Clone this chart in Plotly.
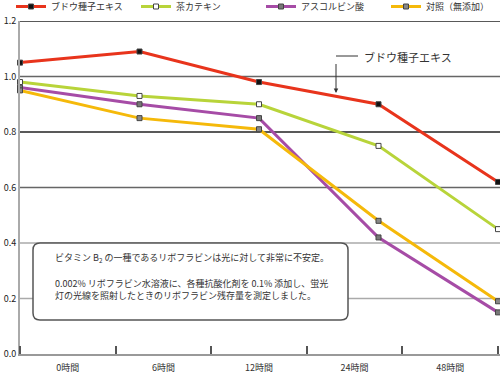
import plotly.graph_objects as go

time_labels = ["0時間", "6時間", "12時間", "24時間", "48時間"]
series_names = ["ブドウ種子エキス", "茶カテキン", "アスコルビン酸", "対照（無添加）"]
grape = [1.05, 1.09, 0.98, 0.90, 0.62]
catechin = [0.98, 0.93, 0.90, 0.75, 0.45]
ascorbic = [0.96, 0.90, 0.85, 0.42, 0.15]
control = [0.95, 0.85, 0.81, 0.48, 0.19]
y_ticks = [0.0, 0.2, 0.4, 0.6, 0.8, 1.0, 1.2]
grid_colors = ["#999999", "#aaaaaa", "#aaaaaa", "#666666", "#222222", "#666666", "#222222"]

W, H = 500, 375
ML, MR, MT, MB = 20, 0, 21, 21
PW, PH = W - ML - MR, H - MT - MB


def px(x):
    return (x - ML) / PW


def py(y):
    return (H - MB - y) / PH


FONT = "Noto Sans CJK JP, Noto Sans, sans-serif"
x_idx = list(range(len(time_labels)))
span = (len(time_labels) - 1) * PW / 478

series = [grape, catechin, ascorbic, control]
line_colors = ["#e8341c", "#b8d43a", "#a64ca6", "#f5b90a"]
marker_fill = ["#111111", "#ffffff", "#777777", "#888888"]

fig = go.Figure()
for name, vals, lc, mf in zip(series_names, series, line_colors, marker_fill):
    fig.add_trace(go.Scatter(
        x=x_idx, y=vals, name=name, mode="lines+markers",
        line=dict(color=lc, width=3),
        marker=dict(symbol="square", size=5, color=mf, line=dict(color="#444444", width=1)),
        xaxis="x", yaxis="y", cliponaxis=False,
    ))

shapes = []
for yv, gc in zip(y_ticks[1:], grid_colors[1:]):
    shapes.append(dict(type="line", xref="paper", yref="y", x0=0, x1=1, y0=yv, y1=yv,
                       line=dict(color=gc, width=1.5), layer="below"))

# rounded info box
bx0, by0, bx1, by1, r = 33, 243, 348, 320, 7
path = (f"M {px(bx0 + r)} {py(by0)} L {px(bx1 - r)} {py(by0)} "
        f"Q {px(bx1)} {py(by0)} {px(bx1)} {py(by0 + r)} L {px(bx1)} {py(by1 - r)} "
        f"Q {px(bx1)} {py(by1)} {px(bx1 - r)} {py(by1)} L {px(bx0 + r)} {py(by1)} "
        f"Q {px(bx0)} {py(by1)} {px(bx0)} {py(by1 - r)} L {px(bx0)} {py(by0 + r)} "
        f"Q {px(bx0)} {py(by0)} {px(bx0 + r)} {py(by0)} Z")
shapes.append(dict(type="path", xref="paper", yref="paper", path=path,
                   fillcolor="white", line=dict(color="#555555", width=1.5), layer="above"))
# callout horizontal line
shapes.append(dict(type="line", xref="paper", yref="paper", x0=px(336), x1=px(358),
                   y0=py(56), y1=py(56), line=dict(color="#333333", width=1)))

annotations = [
    dict(xref="paper", yref="paper", x=px(362), y=py(57), xanchor="left", yanchor="middle",
         text=series_names[0], showarrow=False, font=dict(family=FONT, size=11, color="#333333")),
    dict(xref="paper", yref="paper", x=px(336), y=py(93), ax=0, ay=-37, text=" ",
         showarrow=True, arrowhead=2, arrowsize=0.9, arrowwidth=1, arrowcolor="#333333"),
    dict(xref="paper", yref="paper", x=px(53), y=py(258), xanchor="left", yanchor="middle",
         text="ビタミン B<sub>2</sub> の一種であるリボフラビンは光に対して非常に不安定。",
         showarrow=False, font=dict(family=FONT, size=9, color="#333333")),
    dict(xref="paper", yref="paper", x=px(53), y=py(289.5), xanchor="left", yanchor="middle",
         align="left",
         text="0.002% リボフラビン水溶液に、各種抗酸化剤を 0.1% 添加し、蛍光<br>灯の光線を照射したときのリボフラビン残存量を測定しました。",
         showarrow=False, font=dict(family=FONT, size=9, color="#333333")),
]

fig.update_layout(
    width=W, height=H,
    margin=dict(l=ML, r=MR, t=MT, b=MB, autoexpand=False),
    paper_bgcolor="white", plot_bgcolor="white",
    font=dict(family=FONT, size=9, color="#333333"),
    showlegend=True,
    legend=dict(orientation="h", x=px(11), y=py(-8), xanchor="left", yanchor="top",
                entrywidth=80, entrywidthmode="pixels", itemwidth=30,
                font=dict(family=FONT, size=9, color="#333333"), bgcolor="rgba(0,0,0,0)"),
    xaxis=dict(range=[0, span], showgrid=False, zeroline=False, showticklabels=False,
               showline=True, linecolor="#999999", linewidth=2, ticks="", automargin=False),
    xaxis2=dict(overlaying="x", anchor="y", side="bottom", automargin=False,
                range=[0, len(time_labels) * PW / 478],
                tickvals=[i + 0.5 for i in x_idx], ticktext=time_labels, ticks="",
                ticklabelstandoff=7,
                showgrid=False, zeroline=False, showline=False,
                tickfont=dict(family=FONT, size=9, color="#333333"),
                minor=dict(tickmode="linear", tick0=0, dtick=1, ticks="inside", ticklen=8,
                           tickcolor="#555555", tickwidth=1.5, showgrid=False)),
    yaxis=dict(range=[0, 1.2], tickvals=y_ticks, tickformat=".1f", showgrid=False,
               zeroline=False, showline=True, linecolor="#aaaaaa", linewidth=2, ticks="",
               automargin=False,
               tickfont=dict(family=FONT, size=9, color="#222222")),
    shapes=shapes, annotations=annotations,
)
# dummy trace to activate xaxis2
fig.add_trace(go.Scatter(x=[0], y=[0], xaxis="x2", yaxis="y", mode="markers",
                         marker=dict(opacity=0), showlegend=False, hoverinfo="skip"))

fig.write_html("out.html", config={"displayModeBar": False},
               post_script="document.body.style.margin='0';")
